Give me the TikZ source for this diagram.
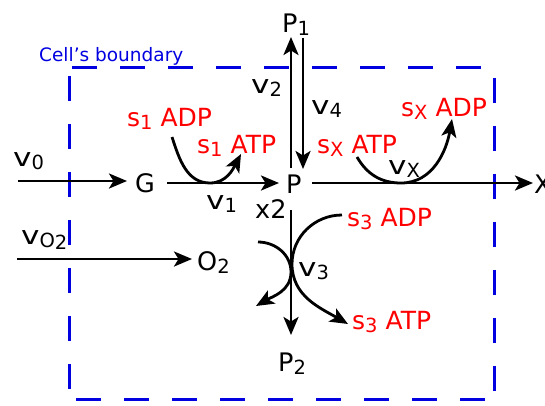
\documentclass[tikz,border=0pt]{standalone}
\usepackage{fontspec}
\setmainfont{DejaVu Sans}
\usetikzlibrary{arrows.meta}
\definecolor{bnd}{RGB}{0,0,225}
\definecolor{rd}{RGB}{255,0,0}
\newcommand\sbs[1]{\raisebox{-3.5pt}{\fontsize{19.5}{20}\selectfont #1}}
\newcommand\vv{\scalebox{1.22}[1]{v}}
\begin{document}
\begin{tikzpicture}[x=1pt,y=-1pt,
  lbl/.style={inner sep=0pt, anchor=base west, font=\fontsize{25.5}{30}\selectfont},
  rlbl/.style={lbl, text=rd, font=\fontsize{25}{30}\selectfont},
  arr/.style={line width=2.8pt, -{Stealth[length=18pt,width=15pt,inset=4.5pt]}},
  bline/.style={draw=bnd, line width=3pt, dash pattern=on 25pt off 23pt}]
\useasboundingbox (0,0) rectangle (545,405);
% boundary
\draw[bline] (72,67) -- (494,67);
\draw[bline] (69,76) -- (69,399);
\draw[bline] (494,78) -- (494,399);
\draw[bline] (76,399) -- (494,399);
\node[inner sep=0pt, anchor=base west, text=bnd, font=\fontsize{18.5}{20}\selectfont] (cb) at (39,61) {Cell's boundary};
% species
\node[lbl] (P1) at (282,32) {P\sbs{1}};
\node[lbl] (G) at (135,192) {G};
\node[lbl] (P) at (286,193) {P};
\node[lbl] (X) at (534,193) {X};
\node[lbl] (O2) at (197,270) {O\sbs{2}};
\node[lbl] (P2) at (278,371) {P\sbs{2}};
% rates
\node[lbl] (v0) at (13,166) {\vv\sbs{0}};
\node[lbl] (v1) at (206,209) {\vv\sbs{1}};
\node[lbl] (x2) at (255,218) {x2};
\node[lbl] (v2) at (251,93) {\vv\sbs{2}};
\node[lbl] (v4) at (311,114) {\vv\sbs{4}};
\node[lbl] (vX) at (388,174) {\vv\sbs{X}};
\node[lbl] (v3) at (298,276) {\vv\sbs{3}};
\node[lbl] (vO2) at (21,244) {\vv\sbs{O\raisebox{-2pt}{2}}};
% cofactors
\node[rlbl] (s1adp) at (127,126) {s\sbs{1} ADP};
\node[rlbl] (s1atp) at (197,153) {s\sbs{1} ATP};
\node[rlbl] (sxatp) at (317,153) {s\sbs{X} ATP};
\node[rlbl] (sxadp) at (401,116) {s\sbs{X} ADP};
\node[rlbl] (s3adp) at (347,226) {s\sbs{3} ADP};
\node[rlbl] (s3atp) at (352,329) {s\sbs{3} ATP};
% connector end points
\coordinate (in0) at (18,181);
\coordinate (inO) at (17,259);
\coordinate (v2a) at (291,168);
\coordinate (v2b) at (291,37);
\coordinate (v4a) at (303,38);
\coordinate (v4b) at (303,169);
\coordinate (v3a) at (291,210);
\coordinate (v3b) at (291,335);
\coordinate (c1a) at (172,137);
\coordinate (c1m) at (210,183);
\coordinate (c1b) at (241,154);
\coordinate (cxa) at (357,157);
\coordinate (cxm) at (401,183);
\coordinate (cxb) at (452,119);
\coordinate (c3a) at (342,215);
\coordinate (c3m) at (292,264);
\coordinate (c3b) at (348,324);
\coordinate (c4a) at (258,242);
\coordinate (c4m) at (291,272);
\coordinate (c4b) at (256,306);
% connectors
\draw[arr] (in0) -- ([xshift=-8pt]G.west |- in0);
\draw[arr] ([xshift=12pt]G.east |- 0,183) -- ([xshift=-7pt]P.west |- 0,183);
\draw[arr] ([xshift=10pt]P.east |- 0,183) -- ([xshift=-1pt]X.west |- 0,183);
\draw[arr] (inO) -- ([xshift=-5pt]O2.west |- inO);
\draw[arr] (v2a) -- (v2b);
\draw[arr] (v4a) -- (v4b);
\draw[arr] (v3a) -- (v3b);
\draw[arr] (c1a) to[out=-72,in=180] (c1m) to[out=0,in=-118] (c1b);
\draw[arr] (cxa) to[out=-60,in=180] (cxm) to[out=0,in=-100] (cxb);
\draw[arr] (c3a) to[out=180,in=90] (c3m) to[out=-90,in=150] (c3b);
\draw[arr] (c4a) to[out=0,in=90] (c4m) to[out=-90,in=30] (c4b);
\end{tikzpicture}
\end{document}
